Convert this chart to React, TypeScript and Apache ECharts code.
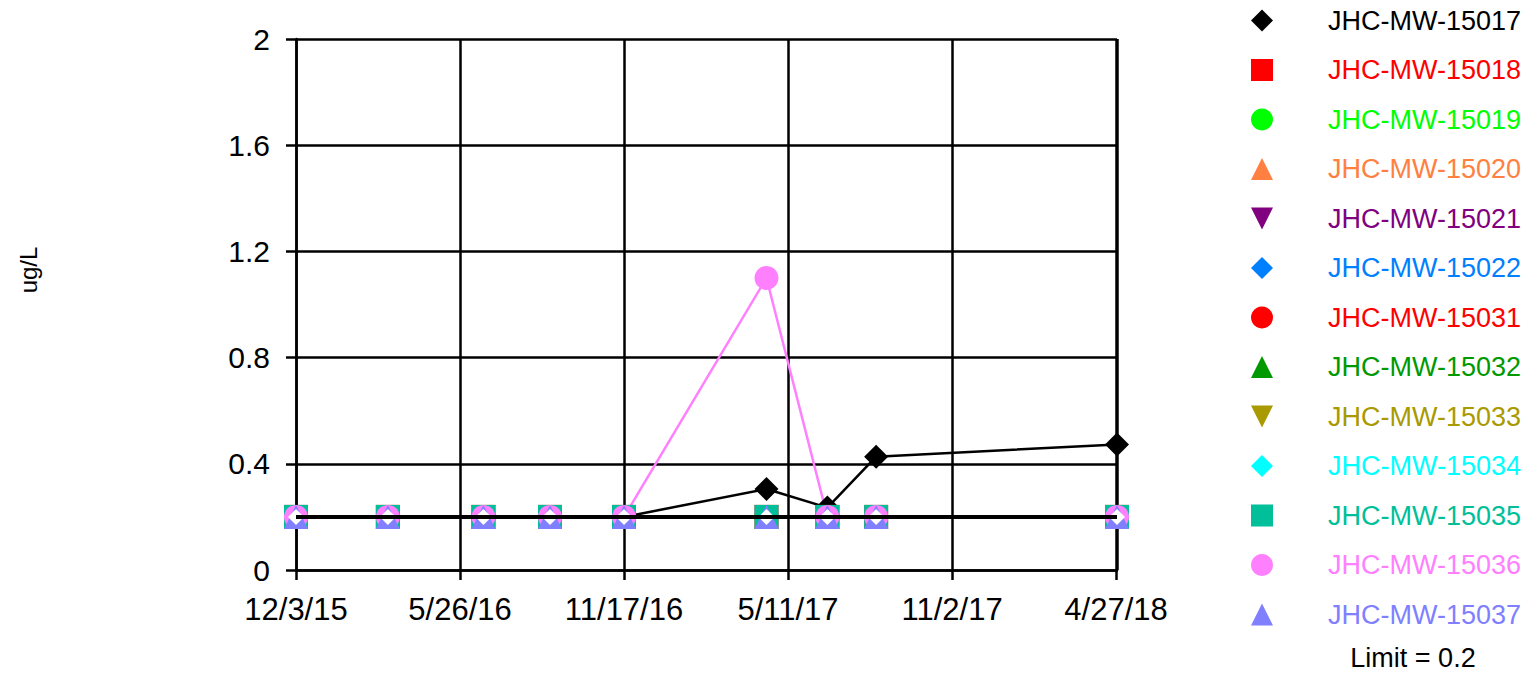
import React, { useEffect, useRef } from "react";
import * as echarts from "echarts";

// ---- data ----
const sampleDates = [
  "2015-12-03", "2016-03-10", "2016-06-20", "2016-08-30", "2016-11-17",
  "2017-04-18", "2017-06-22", "2017-08-13", "2018-04-27",
];
const xTickLabels = ["12/3/15", "5/26/16", "11/17/16", "5/11/17", "11/2/17", "4/27/18"];
const yTicks = [0, 0.4, 0.8, 1.2, 1.6, 2];
const limitValue = 0.2;

const wellNames = [
  "JHC-MW-15017", "JHC-MW-15018", "JHC-MW-15019", "JHC-MW-15020", "JHC-MW-15021",
  "JHC-MW-15022", "JHC-MW-15031", "JHC-MW-15032", "JHC-MW-15033", "JHC-MW-15034",
  "JHC-MW-15035", "JHC-MW-15036", "JHC-MW-15037",
];
const wellColors = [
  "#000000", "#FF0000", "#00FF00", "#FF8040", "#800080",
  "#0080FF", "#FF0000", "#009900", "#A89A00", "#00FFFF",
  "#00BF99", "#FF80FF", "#8080FF",
];
const INV_TRI = "path://M0,0L20,0L10,20Z";
const wellSymbols = [
  "diamond", "rect", "circle", "triangle", INV_TRI,
  "diamond", "circle", "triangle", INV_TRI, "diamond",
  "rect", "circle", "triangle",
];

const mw15017 = [0.2, 0.2, 0.2, 0.2, 0.2, 0.305, 0.235, 0.427, 0.473];
const mw15018 = [0.2, 0.2, 0.2, 0.2, 0.2, 0.2, 0.2, 0.2, 0.2];
const mw15019 = [0.2, 0.2, 0.2, 0.2, 0.2, 0.2, 0.2, 0.2, 0.2];
const mw15020 = [0.2, 0.2, 0.2, 0.2, 0.2, 0.2, 0.2, 0.2, 0.2];
const mw15021 = [0.2, 0.2, 0.2, 0.2, 0.2, 0.2, 0.2, 0.2, 0.2];
const mw15022 = [0.2, 0.2, 0.2, 0.2, 0.2, 0.2, 0.2, 0.2, 0.2];
const mw15031 = [0.2, 0.2, 0.2, 0.2, 0.2, 0.2, 0.2, 0.2, 0.2];
const mw15032 = [0.2, 0.2, 0.2, 0.2, 0.2, 0.2, 0.2, 0.2, 0.2];
const mw15033 = [0.2, 0.2, 0.2, 0.2, 0.2, 0.2, 0.2, 0.2, 0.2];
const mw15034 = [0.2, 0.2, 0.2, 0.2, 0.2, 0.2, 0.2, 0.2, 0.2];
const mw15035 = [0.2, 0.2, 0.2, 0.2, 0.2, 0.2, 0.2, 0.2, 0.2];
const mw15036 = [0.2, 0.2, 0.2, 0.2, 0.2, 1.1, 0.2, 0.2, 0.2];
const mw15037 = [0.2, 0.2, 0.2, 0.2, 0.2, 0.2, 0.2, 0.2, 0.2];
const wellValues = [
  mw15017, mw15018, mw15019, mw15020, mw15021, mw15022, mw15031,
  mw15032, mw15033, mw15034, mw15035, mw15036, mw15037,
];

// ---- helpers ----
const START = Date.parse("2015-12-03");
const END = Date.parse("2018-04-27");
const DAY = 86400000;
const toDay = (s: string) => Math.round((Date.parse(s) - START) / DAY);
const X_INTERVAL = 175;
const X_MAX = Math.round((END - START) / DAY);

const FONT = "'Liberation Sans', Arial, Helvetica, sans-serif";

export default function App() {
  const ref = useRef<HTMLDivElement>(null);

  useEffect(() => {
    if (!ref.current) return;
    const chart = echarts.init(ref.current, undefined, { renderer: "svg" });

    const wellSeries = wellNames.map((name, i) => {
      const isWhite = name === "JHC-MW-15034";
      return {
        type: "line",
        name,
        z: isWhite ? 3 : 2,
        symbol: wellSymbols[i],
        symbolSize: isWhite ? 16 : 24,
        symbolKeepAspect: true,
        color: wellColors[i],
        itemStyle: { color: isWhite ? "#FFFFFF" : wellColors[i] },
        lineStyle: { color: wellColors[i], width: 2.5 },
        data: sampleDates.map((d, j) => [toDay(d), wellValues[i][j]]),
      };
    });

    const option = {
      animation: false,
      backgroundColor: "#FFFFFF",
      textStyle: { fontFamily: FONT },
      grid: { left: 296, right: 416, top: 39, bottom: 105 },
      xAxis: {
        type: "value",
        min: 0,
        max: X_MAX,
        interval: X_INTERVAL,
        axisLine: { show: true, onZero: false, lineStyle: { color: "#000", width: 2.5 } },
        axisTick: { show: true, length: 10, lineStyle: { color: "#000", width: 2.5 } },
        splitLine: { show: true, lineStyle: { color: "#000", width: 2.5 } },
        axisLabel: {
          color: "#000",
          fontSize: 31,
          fontFamily: FONT,
          margin: 24,
          formatter: (v: number) => xTickLabels[Math.round(v / X_INTERVAL)] ?? "",
        },
      },
      yAxis: {
        type: "value",
        min: yTicks[0],
        max: yTicks[yTicks.length - 1],
        interval: 0.4,
        axisLine: { show: true, lineStyle: { color: "#000", width: 2.5 } },
        axisTick: { show: true, length: 10, lineStyle: { color: "#000", width: 2.5 } },
        splitLine: { show: true, lineStyle: { color: "#000", width: 2.5 } },
        axisLabel: {
          color: "#000",
          fontSize: 30,
          fontFamily: FONT,
          margin: 26,
          formatter: (v: number) => String(Math.round(v * 10) / 10),
        },
      },
      legend: {
        orient: "vertical",
        left: 1246,
        top: 2,
        itemWidth: 22,
        itemHeight: 22,
        itemGap: 22.5,
        selectedMode: false,
        textStyle: { fontSize: 27, fontFamily: FONT, padding: [0, 0, 0, 50], lineHeight: 22 },
        data: wellNames.map((name, i) => ({
          name,
          icon: wellSymbols[i],
          itemStyle: { color: wellColors[i] },
          textStyle: { color: wellColors[i] },
        })),
      },
      graphic: [
        {
          type: "text",
          x: 28,
          y: 270,
          rotation: Math.PI / 2,
          style: {
            text: "ug/L",
            fontSize: 24,
            fontFamily: FONT,
            fill: "#000",
            textAlign: "center",
            textVerticalAlign: "middle",
          },
        },
        {
          type: "text",
          x: 1413,
          y: 658,
          style: {
            text: "Limit = " + limitValue,
            fontSize: 27,
            fontFamily: FONT,
            fill: "#000",
            textAlign: "center",
            textVerticalAlign: "middle",
          },
        },
      ],
      series: [
        ...wellSeries,
        {
          type: "line",
          name: "Limit",
          z: 4,
          symbol: "none",
          lineStyle: { color: "#000", width: 4 },
          data: [
            [0, limitValue],
            [X_MAX, limitValue],
          ],
        },
      ],
    };

    chart.setOption(option as any);
    return () => chart.dispose();
  }, []);

  return (
    <div
      ref={ref}
      style={{ position: "fixed", left: 0, top: 0, width: 1533, height: 675, background: "#fff" }}
    />
  );
}
